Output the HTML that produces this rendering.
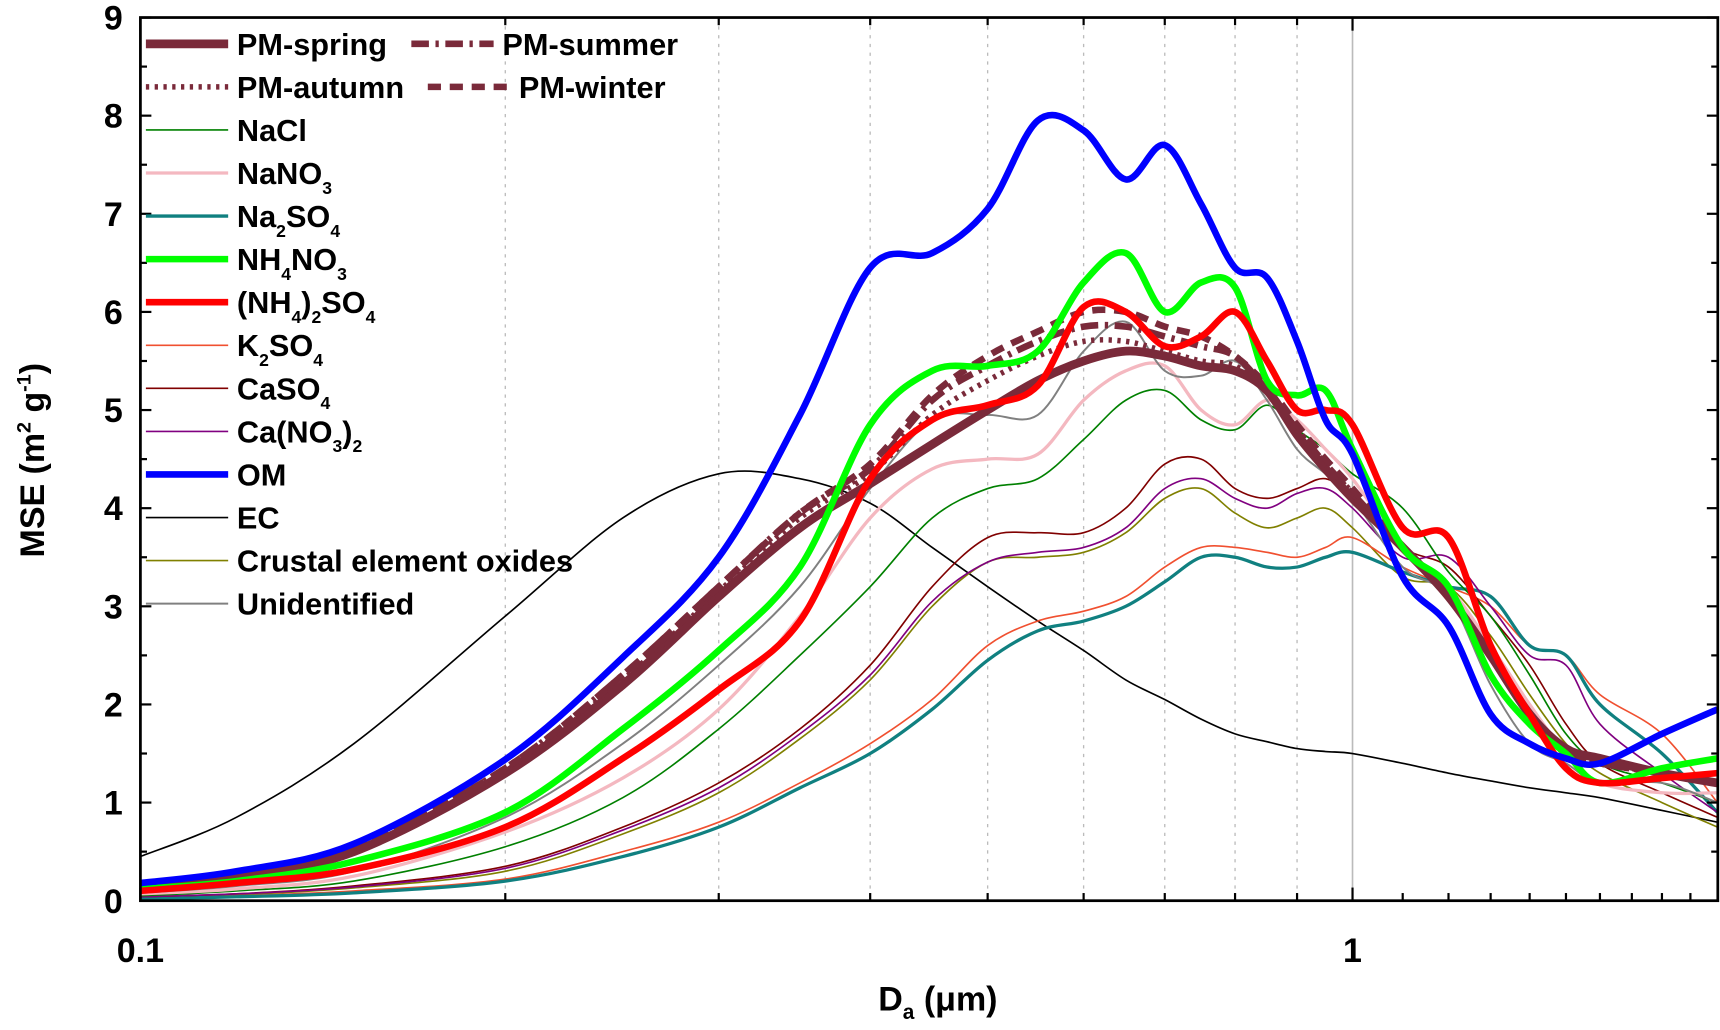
<!DOCTYPE html>
<html><head><meta charset="utf-8"><style>
html,body{margin:0;padding:0;background:#fff;}
svg{display:block;}
text{font-family:"Liberation Sans",Arial,sans-serif;font-weight:bold;fill:#000;}
</style></head><body>
<svg id="chart" width="1720" height="1030" viewBox="0 0 1568 940" preserveAspectRatio="none" xmlns="http://www.w3.org/2000/svg">
<g id="grid"></g>
<g id="series"></g>
<g id="axes"></g>
<g id="legend"></g>
</svg>
<script>
const xVals=[0.1,0.12,0.15,0.2,0.25,0.3,0.35,0.4,0.45,0.5,0.55,0.6,0.65,0.7,0.75,0.8,0.85,0.9,0.95,1.0,1.1,1.2,1.3,1.4,1.5,1.6,1.8,2.0];
const pmSpring=[0.15,0.25,0.5,1.3,2.2,3.1,3.8,4.25,4.65,5.0,5.3,5.5,5.6,5.55,5.45,5.4,5.2,4.75,4.4,4.1,3.6,3.1,2.5,1.9,1.55,1.45,1.3,1.2];
const pmSummer=[0.15,0.26,0.52,1.35,2.3,3.2,3.95,4.4,5.1,5.45,5.7,5.85,5.85,5.75,5.65,5.55,5.2,4.8,4.45,4.15,3.6,3.1,2.5,1.9,1.5,1.4,1.3,1.2];
const pmAutumn=[0.15,0.26,0.5,1.32,2.25,3.15,3.9,4.35,4.95,5.3,5.55,5.7,5.7,5.6,5.5,5.45,5.2,4.8,4.45,4.15,3.6,3.1,2.5,1.9,1.5,1.4,1.3,1.2];
const pmWinter=[0.15,0.26,0.52,1.35,2.3,3.2,3.95,4.45,5.15,5.55,5.8,6.0,6.0,5.85,5.75,5.55,5.25,4.85,4.5,4.2,3.6,3.1,2.5,1.9,1.5,1.4,1.3,1.2];
const naCl=[0.05,0.1,0.2,0.55,1.05,1.75,2.5,3.2,3.9,4.2,4.3,4.7,5.1,5.2,4.9,4.8,5.05,4.8,4.6,4.35,4.0,3.35,2.9,2.3,1.7,1.4,1.2,1.0];
const naNO3=[0.07,0.12,0.25,0.7,1.25,1.95,2.9,3.9,4.4,4.5,4.55,5.1,5.4,5.45,5.0,4.85,5.1,4.9,4.6,4.3,3.6,3.2,2.6,2.0,1.5,1.2,1.1,1.1];
const na2SO4=[0.02,0.04,0.08,0.2,0.45,0.75,1.15,1.5,1.95,2.45,2.75,2.85,3.0,3.25,3.5,3.5,3.4,3.4,3.5,3.55,3.35,3.2,3.1,2.6,2.5,2.0,1.5,0.9];
const nh4NO3=[0.12,0.2,0.4,0.9,1.75,2.55,3.4,4.85,5.4,5.45,5.6,6.3,6.6,6.0,6.3,6.25,5.3,5.15,5.2,4.6,3.6,3.2,2.3,1.8,1.5,1.2,1.35,1.45];
const nh42SO4=[0.1,0.18,0.32,0.75,1.45,2.15,2.85,4.3,4.9,5.05,5.25,6.05,6.0,5.65,5.75,6.0,5.5,5.0,5.0,4.85,3.8,3.7,2.6,1.9,1.35,1.2,1.25,1.3];
const k2SO4=[0.03,0.05,0.1,0.22,0.5,0.8,1.2,1.6,2.05,2.6,2.85,2.95,3.1,3.4,3.6,3.6,3.55,3.5,3.6,3.7,3.4,3.2,3.0,2.6,2.5,2.1,1.7,1.0];
const caSO4=[0.04,0.07,0.15,0.35,0.75,1.2,1.75,2.4,3.2,3.7,3.75,3.75,4.0,4.45,4.5,4.2,4.1,4.2,4.3,4.1,3.6,3.4,2.9,2.4,1.8,1.4,1.1,0.85];
const caNO32=[0.04,0.07,0.14,0.33,0.72,1.15,1.7,2.3,3.05,3.45,3.55,3.6,3.8,4.2,4.3,4.1,4.0,4.15,4.2,4.0,3.5,3.5,3.0,2.5,2.4,1.8,1.3,0.9];
const om=[0.18,0.3,0.58,1.44,2.48,3.5,4.95,6.45,6.6,7.05,7.95,7.85,7.35,7.7,7.1,6.45,6.35,5.7,4.9,4.55,3.3,2.8,1.9,1.6,1.45,1.4,1.7,1.95];
const ec=[0.45,0.85,1.6,2.9,3.9,4.35,4.3,4.05,3.6,3.2,2.85,2.55,2.25,2.05,1.85,1.7,1.62,1.55,1.52,1.5,1.4,1.3,1.22,1.15,1.1,1.05,0.92,0.8];
const crustal=[0.03,0.06,0.13,0.3,0.68,1.1,1.65,2.25,3.0,3.45,3.5,3.55,3.75,4.1,4.2,3.95,3.8,3.9,4.0,3.8,3.3,3.2,2.7,2.1,1.6,1.3,1.0,0.75];
const unidentified=[0.08,0.15,0.3,0.85,1.6,2.4,3.2,4.2,4.9,4.95,4.95,5.6,5.9,5.4,5.35,5.5,5.1,4.6,4.35,4.1,3.4,3.1,2.2,1.6,1.4,1.2,1.2,1.0];
const yTicks=[0,1,2,3,4,5,6,7,8,9];
const xMinorTicks=[0.2,0.3,0.4,0.5,0.6,0.7,0.8,0.9];
const xLabels=[0.1,1];

const L=128,R=1566,T=16,B=822;
const X=v=>L+1105*Math.log10(v/0.1);
const Y=v=>B-(B-T)*v/9;
const NS="http://www.w3.org/2000/svg";
function mk(tag,attrs,parent){const e=document.createElementNS(NS,tag);for(const k in attrs)e.setAttribute(k,attrs[k]);parent.appendChild(e);return e;}
const grid=document.getElementById('grid'),ser=document.getElementById('series'),axes=document.getElementById('axes'),leg=document.getElementById('legend');

xMinorTicks.forEach(v=>{const l=mk('line',{x1:X(v),x2:X(v),y1:T,y2:B,stroke:'#bbb','stroke-width':1.2,'stroke-dasharray':'3,5'},grid);

});
const g1=mk('line',{x1:X(1),x2:X(1),y1:T,y2:B,stroke:'#bbb','stroke-width':1.5},grid);



const seriesDefs=[
 ['ec',ec,'#000',1.5,''],
 ['crustal',crustal,'#808000',1.5,''],
 ['k2so4',k2SO4,'#f05030',1.5,''],
 ['na2so4',na2SO4,'#108080',3,''],
 ['caso4',caSO4,'#800000',1.5,''],
 ['cano32',caNO32,'#800080',1.5,''],
 ['nacl',naCl,'#008000',1.5,''],
 ['nano3',naNO3,'#f4b8c0',3,''],
 ['unidentified',unidentified,'#808080',1.8,''],
 ['pm-spring',pmSpring,'#7a2a3a',8,''],
 ['pm-summer',pmSummer,'#7a2a3a',6,'16,6,3,6'],
 ['pm-autumn',pmAutumn,'#7a2a3a',5,'3,5'],
 ['pm-winter',pmWinter,'#7a2a3a',6,'12,8'],
 ['nh4no3',nh4NO3,'#00ff00',6,''],
 ['nh42so4',nh42SO4,'#ff0000',6,''],
 ['om',om,'#0000ff',6,'']
];
seriesDefs.forEach(([n,d,c,w,da])=>{
 const pts=d.map((v,i)=>[X(xVals[i]),Y(v)]);
 let p='M'+pts[0][0]+','+pts[0][1];
 for(let i=0;i<pts.length-1;i++){const p0=pts[Math.max(0,i-1)],p1=pts[i],p2=pts[i+1],p3=pts[Math.min(pts.length-1,i+2)];
  const c1=[p1[0]+(p2[0]-p0[0])/6,p1[1]+(p2[1]-p0[1])/6],c2=[p2[0]-(p3[0]-p1[0])/6,p2[1]-(p3[1]-p1[1])/6];
  p+=' C'+c1+' '+c2+' '+p2;}
 const e=mk('path',{d:p,fill:'none',stroke:c,'stroke-width':w,'stroke-linejoin':'round'},ser);
 if(da)e.setAttribute('stroke-dasharray',da);
 
 
});

const frame=mk('rect',{x:L,y:T,width:R-L,height:B-T,fill:'none',stroke:'#000','stroke-width':2.5},axes);


yTicks.forEach(v=>{
 mk('line',{x1:L,x2:L+10,y1:Y(v),y2:Y(v),stroke:'#000','stroke-width':2},axes);
 mk('line',{x1:R,x2:R-10,y1:Y(v),y2:Y(v),stroke:'#000','stroke-width':2},axes);
 if(v<9){mk('line',{x1:L,x2:L+6,y1:Y(v+0.5),y2:Y(v+0.5),stroke:'#000','stroke-width':2},axes);
 mk('line',{x1:R,x2:R-6,y1:Y(v+0.5),y2:Y(v+0.5),stroke:'#000','stroke-width':2},axes);}
 const t=mk('text',{x:L-16,y:Y(v)+11,'text-anchor':'end','font-size':31},axes);t.textContent=v;
 
 
});
xMinorTicks.forEach(v=>{mk('line',{x1:X(v),x2:X(v),y1:B,y2:B-7,stroke:'#000','stroke-width':2},axes);mk('line',{x1:X(v),x2:X(v),y1:T,y2:T+7,stroke:'#000','stroke-width':2},axes);});
xLabels.forEach(v=>{mk('line',{x1:X(v),x2:X(v),y1:B,y2:B-12,stroke:'#000','stroke-width':2},axes);mk('line',{x1:X(v),x2:X(v),y1:T,y2:T+12,stroke:'#000','stroke-width':2},axes);
 const t=mk('text',{x:X(v),y:B+56,'text-anchor':'middle','font-size':31},axes);t.textContent=v;
 
 });
[1.1,1.2,1.3,1.4,1.5,1.6,1.7,1.8,1.9].forEach(v=>{mk('line',{x1:X(v),x2:X(v),y1:B,y2:B-7,stroke:'#000','stroke-width':2},axes);});
</script>
<script>
(function(){
const axes=document.getElementById('axes');
axes.insertAdjacentHTML('beforeend','<text x="855" y="922" text-anchor="middle" font-size="31">D<tspan font-size="19" dy="8">a</tspan><tspan dy="-8"> (μm)</tspan></text>'+
'<text transform="translate(40,420) rotate(-90)" text-anchor="middle" font-size="31">MSE (m<tspan font-size="18" dy="-12">2</tspan><tspan dy="12"> g</tspan><tspan font-size="18" dy="-12">-1</tspan><tspan dy="12">)</tspan></text>');
const leg=document.getElementById('legend');
const rows=[
 [0,133,'#7a2a3a',8,'','PM-spring'],[0,375,'#7a2a3a',6,'16,6,3,6','PM-summer'],
 [1,133,'#7a2a3a',5,'3,5','PM-autumn'],[1,390,'#7a2a3a',6,'12,8','PM-winter'],
 [2,133,'#008000',1.5,'','NaCl'],[3,133,'#f4b8c0',3,'','NaNO<tspan font-size="16" dy="9">3</tspan>'],
 [4,133,'#108080',3,'','Na<tspan font-size="16" dy="9">2</tspan><tspan dy="-9">SO</tspan><tspan font-size="16" dy="9">4</tspan>'],
 [5,133,'#00ff00',6,'','NH<tspan font-size="16" dy="9">4</tspan><tspan dy="-9">NO</tspan><tspan font-size="16" dy="9">3</tspan>'],
 [6,133,'#ff0000',6,'','(NH<tspan font-size="16" dy="9">4</tspan><tspan dy="-9">)</tspan><tspan font-size="16" dy="9">2</tspan><tspan dy="-9">SO</tspan><tspan font-size="16" dy="9">4</tspan>'],
 [7,133,'#f05030',1.5,'','K<tspan font-size="16" dy="9">2</tspan><tspan dy="-9">SO</tspan><tspan font-size="16" dy="9">4</tspan>'],
 [8,133,'#800000',1.5,'','CaSO<tspan font-size="16" dy="9">4</tspan>'],
 [9,133,'#800080',1.5,'','Ca(NO<tspan font-size="16" dy="9">3</tspan><tspan dy="-9">)</tspan><tspan font-size="16" dy="9">2</tspan>'],
 [10,133,'#0000ff',6,'','OM'],[11,133,'#000',1.5,'','EC'],
 [12,133,'#808000',1.5,'','Crustal element oxides'],[13,133,'#808080',1.8,'','Unidentified']];
let h='';
rows.forEach(r=>{const y=40+r[0]*39.3;const tx=r[1]===133?216:r[1]+83;
 h+='<g><line x1="'+r[1]+'" x2="'+(r[1]+75)+'" y1="'+y+'" y2="'+y+'" stroke="'+r[2]+'" stroke-width="'+r[3]+'"'+(r[4]?' stroke-dasharray="'+r[4]+'"':'')+'/><text x="'+tx+'" y="'+(y+10)+'" font-size="28">'+r[5]+'</text></g>';});
leg.innerHTML=h;
})();
</script>
</body></html>
